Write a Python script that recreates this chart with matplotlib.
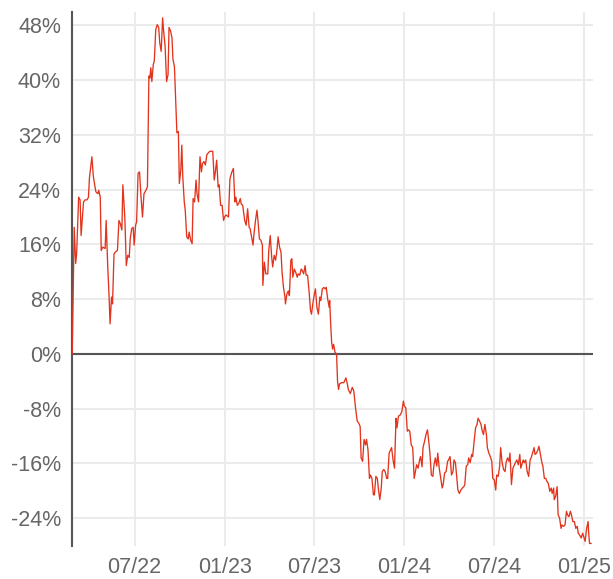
import matplotlib
matplotlib.use("Agg")
import matplotlib.pyplot as plt
import matplotlib.dates as mdates
from matplotlib.ticker import FuncFormatter
import pandas as pd

start_date = "2022-02-24"
# days since start_date
days = [0, 4, 7, 9, 13, 16, 18, 23, 26, 30, 33, 35, 40, 43, 48, 52, 54, 57, 59, 62,
        67, 69, 72, 75, 77, 80, 82, 85, 88, 92, 95, 98, 101, 103, 107, 110, 113, 116, 118, 121,
        124, 126, 129, 131, 134, 137, 140, 143, 146, 150, 153, 156, 158, 160, 162, 165, 167, 170, 173, 176,
        178, 181, 184, 186, 189, 192, 195, 197, 200, 203, 205, 208, 211, 213, 216, 218, 221, 223, 225, 228,
        230, 233, 236, 238, 241, 244, 246, 249, 252, 254, 257, 260, 263, 265, 268, 271, 274, 276, 280, 286,
        289, 291, 294, 297, 299, 302, 305, 308, 310, 313, 318, 321, 325, 328, 331, 333, 336, 339, 342, 344,
        347, 351, 354, 357, 360, 362, 365, 368, 370, 373, 376, 378, 381, 384, 387, 388, 391, 394, 398, 400,
        403, 406, 408, 411, 414, 417, 419, 422, 425, 427, 430, 433, 434, 437, 440, 442, 445, 447, 449, 452,
        455, 458, 460, 463, 466, 468, 471, 474, 476, 479, 482, 485, 487, 490, 493, 495, 498, 501, 504, 506,
        509, 512, 515, 517, 520, 523, 524, 526, 528, 530, 532, 535, 538, 540, 542, 544, 548, 553, 557, 560,
        562, 566, 570, 573, 577, 580, 583, 586, 588, 591, 594, 597, 599, 602, 605, 607, 610, 613, 615, 618,
        621, 623, 626, 629, 631, 634, 637, 640, 642, 645, 648, 650, 653, 656, 659, 661, 664, 668, 671, 674,
        676, 679, 682, 685, 687, 690, 693, 696, 698, 701, 704, 707, 709, 712, 714, 717, 720, 723, 725, 728,
        731, 734, 736, 739, 742, 744, 747, 750, 753, 755, 758, 761, 764, 766, 769, 772, 775, 777, 780, 783,
        785, 788, 791, 794, 797, 799, 802, 805, 807, 810, 813, 815, 818, 821, 824, 826, 829, 832, 834, 837,
        840, 843, 845, 848, 851, 854, 856, 859, 862, 864, 867, 870, 872, 875, 878, 881, 883, 886, 889, 891,
        894, 897, 902, 905, 908, 911, 913, 918, 920, 923, 926, 929, 932, 934, 937, 940, 942, 945, 948, 950,
        953, 956, 958, 961, 964, 966, 969, 972, 975, 977, 980, 981, 984, 987, 989, 992, 995, 997, 1000, 1003,
        1006, 1008, 1011, 1014, 1017, 1019, 1022, 1025, 1028, 1030, 1033, 1036, 1039, 1041, 1044, 1047, 1050, 1051, 1053, 1056]
# cumulative return, %
returns = [0.0, 18.5, 13.2, 14.7, 22.9, 22.5, 17.3, 22.2, 22.5, 22.5, 22.9, 25.7, 28.8, 25.9, 23.7, 23.4, 23.9, 22.9, 15.1, 15.6,
           15.4, 19.5, 13.2, 8.3, 4.4, 8.3, 7.3, 14.6, 14.9, 15.1, 19.5, 19.0, 18.1, 24.7, 20.0, 12.9, 14.4, 14.1, 16.8, 18.3,
           18.5, 15.9, 18.8, 19.3, 26.4, 26.6, 22.9, 20.0, 23.4, 23.9, 24.4, 40.6, 40.3, 41.8, 39.8, 42.3, 42.8, 47.4, 48.1, 47.7,
           45.5, 44.2, 49.1, 47.2, 45.0, 39.8, 40.8, 47.7, 47.2, 46.2, 43.0, 42.0, 36.2, 32.3, 32.5, 24.9, 26.9, 30.5, 25.9, 22.2,
           21.0, 17.1, 16.8, 17.8, 16.6, 16.1, 22.7, 22.2, 25.4, 23.4, 22.2, 28.8, 26.6, 27.8, 28.1, 27.6, 29.1, 29.3, 29.6, 29.6,
           25.4, 26.4, 28.3, 24.4, 24.7, 21.7, 21.7, 19.5, 20.0, 20.3, 20.0, 25.6, 26.6, 27.1, 22.2, 22.9, 21.7, 22.0, 22.7, 21.9,
           21.7, 19.5, 18.8, 21.2, 18.5, 18.3, 17.1, 15.9, 17.6, 19.5, 21.0, 19.5, 16.8, 16.6, 15.9, 10.0, 13.4, 11.7, 11.7, 15.1,
           17.3, 14.1, 12.7, 14.4, 13.7, 15.4, 17.1, 15.6, 14.8, 12.0, 9.7, 8.3, 7.3, 8.8, 9.2, 8.5, 13.7, 13.9, 11.2, 12.4,
           11.9, 11.2, 11.7, 11.5, 12.4, 12.2, 11.7, 12.9, 11.5, 11.5, 9.2, 6.3, 5.8, 7.5, 8.8, 9.5, 6.8, 5.8, 8.3, 7.8,
           9.5, 9.7, 9.5, 9.7, 8.0, 6.8, 7.8, 4.4, 1.7, 0.7, 1.4, 0.2, 0.0, -4.0, -5.2, -4.4, -4.2, -4.2, -3.5, -4.4,
           -5.2, -5.8, -4.9, -5.4, -8.1, -9.8, -10.1, -10.6, -15.2, -15.7, -12.5, -13.3, -12.5, -14.0, -18.2, -17.7, -18.2, -20.6, -20.6, -17.9,
           -18.2, -19.6, -21.3, -19.6, -17.2, -16.9, -17.2, -18.2, -18.2, -14.5, -14.0, -13.7, -15.5, -16.7, -9.4, -10.8, -9.1, -8.9, -8.4, -6.9,
           -7.6, -7.9, -11.3, -11.1, -11.3, -13.3, -13.7, -18.2, -17.4, -16.2, -16.7, -15.5, -15.0, -16.5, -13.7, -12.8, -11.8, -11.1, -12.3, -14.5,
           -17.7, -17.9, -16.4, -15.2, -16.4, -14.5, -16.7, -18.2, -19.6, -19.1, -17.4, -17.2, -15.7, -15.5, -15.0, -17.7, -17.2, -15.5, -15.9, -18.2,
           -19.9, -20.4, -19.9, -19.6, -19.4, -19.1, -16.4, -16.2, -15.2, -15.9, -14.7, -15.0, -12.8, -10.8, -10.3, -9.4, -9.8, -10.3, -11.1, -11.8,
           -10.3, -11.8, -13.7, -14.5, -15.0, -15.7, -18.2, -18.4, -19.9, -17.7, -17.9, -16.4, -13.7, -15.9, -16.9, -17.2, -15.9, -15.2, -15.7, -14.5,
           -19.1, -16.7, -15.9, -15.5, -16.2, -14.7, -16.7, -15.5, -15.9, -15.5, -17.2, -17.9, -15.5, -15.2, -14.5, -13.7, -14.7, -14.5, -14.0, -13.5,
           -14.7, -15.9, -16.4, -18.2, -18.2, -18.6, -18.9, -20.1, -19.6, -20.4, -19.6, -21.3, -20.8, -19.4, -23.5, -24.0, -25.5, -25.0, -25.2, -25.0,
           -23.0, -23.5, -23.8, -23.0, -23.8, -24.5, -24.5, -25.5, -25.2, -26.2, -26.5, -26.9, -26.2, -26.7, -27.4, -25.5, -24.5, -26.0, -27.7, -27.7]

y_ticks = [-24, -16, -8, 0, 8, 16, 24, 32, 40, 48]
x_ticks = ["2022-07-01", "2023-01-01", "2023-07-01", "2024-01-01", "2024-07-01", "2025-01-01"]

dates = pd.Timestamp(start_date) + pd.to_timedelta(days, unit="D")

plt.rcParams["font.family"] = ["Liberation Sans", "DejaVu Sans"]

fig = plt.figure(figsize=(6.13, 5.79), dpi=100)
ax = fig.add_axes([72 / 613, (579 - 545.5) / 579, (593 - 72) / 613, 533.8 / 579])

ax.plot(dates, returns, color="#e2341d", lw=0.95, zorder=3)
ax.axhline(0, color="#555555", lw=1.5, zorder=2)

ax.set_ylim(-28, 50)
ax.set_xlim(pd.Timestamp(start_date) - pd.Timedelta(days=0.5), pd.Timestamp("2025-01-19"))

ax.set_yticks(y_ticks)
ax.yaxis.set_major_formatter(FuncFormatter(lambda v, p: f"{v:.0f}%"))
ax.set_xticks([pd.Timestamp(t) for t in x_ticks])
ax.xaxis.set_major_formatter(mdates.DateFormatter("%m/%y"))

ax.grid(True, color="#ebebeb", lw=1.5, zorder=0)
ax.set_axisbelow(True)

for s in ["top", "right", "bottom"]:
    ax.spines[s].set_visible(False)
ax.spines["left"].set_color("#555555")
ax.spines["left"].set_linewidth(1.5)

ax.tick_params(axis="both", length=0, labelsize=15.5, colors="#666666")
ax.tick_params(axis="x", pad=8.5)
ax.tick_params(axis="y", pad=8)

fig.savefig("out.png", dpi=100)
